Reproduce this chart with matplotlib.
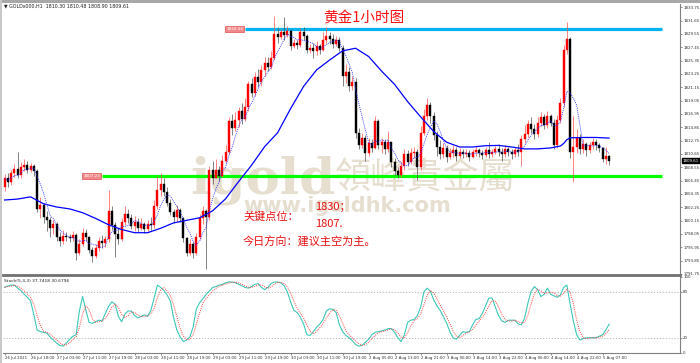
import matplotlib
matplotlib.use("Agg")
import matplotlib.pyplot as plt
from matplotlib.patches import Rectangle
import numpy as np
import pandas as pd

plt.rcParams['font.family'] = ['DejaVu Sans']
CJK = ['Noto Sans CJK SC', 'DejaVu Sans']
CJK_TC = ['Noto Sans CJK TC', 'DejaVu Sans']

# ---- data (GOLD H1) ----
first_open = 1805.5
closes = [
    1806.8, 1806.2, 1807.6, 1808.3, 1807.4, 1808.6, 1808.9, 1808.2, 1808.7, 1808.0,
    1802.0, 1802.6, 1800.8, 1800.2, 1799.0, 1799.6, 1797.6, 1796.9, 1797.8, 1797.6,
    1797.4, 1797.9, 1795.0, 1796.5, 1798.2, 1797.5, 1795.5, 1794.6, 1795.8, 1797.0,
    1796.6, 1797.2, 1801.6, 1799.5, 1798.0, 1797.2, 1800.0, 1801.2, 1800.6, 1799.3,
    1800.0, 1799.0, 1799.6, 1798.9, 1799.6, 1799.4, 1802.5, 1805.0, 1806.0, 1804.6,
    1803.0, 1801.5, 1800.8, 1801.8, 1800.5, 1797.4, 1795.0, 1796.5, 1795.0, 1797.6,
    1800.5, 1801.6, 1800.8, 1808.2, 1806.8, 1808.2, 1807.2, 1809.6, 1811.0, 1815.8,
    1814.8, 1816.0, 1817.4, 1816.2, 1818.0, 1821.6, 1820.2, 1822.8, 1822.0, 1823.8,
    1825.0, 1824.4, 1825.8, 1829.6, 1829.0, 1829.8, 1829.4, 1830.0, 1827.6, 1828.2,
    1827.8, 1829.8, 1829.2, 1827.0, 1827.4, 1826.8, 1827.6, 1827.0, 1828.6, 1829.2,
    1828.8, 1828.0, 1828.6, 1827.4, 1823.0, 1823.6, 1821.4, 1822.0, 1814.0, 1812.0,
    1813.2, 1810.8, 1812.4, 1811.6, 1815.8, 1812.0, 1812.6, 1811.4, 1812.6, 1809.4,
    1808.0, 1807.4, 1808.8, 1810.6, 1809.4, 1810.8, 1811.0, 1808.6, 1814.0, 1816.6,
    1818.4, 1816.6, 1813.6, 1811.8, 1810.6, 1811.6, 1810.2, 1810.8, 1811.2, 1810.4,
    1811.0, 1810.6, 1810.8, 1810.2, 1810.9, 1811.3, 1810.8, 1810.5, 1811.2, 1810.6,
    1810.9, 1811.4, 1811.0, 1810.6, 1811.4, 1811.0, 1810.6, 1811.2, 1811.0, 1813.0,
    1813.8, 1815.4, 1814.6, 1813.8, 1815.6, 1816.4, 1815.2, 1816.6, 1815.6, 1812.0,
    1816.0, 1818.6, 1827.0, 1828.8, 1811.0, 1811.8, 1813.2, 1811.4, 1812.2, 1811.2,
    1812.0, 1812.6, 1812.0, 1811.6, 1809.8, 1810.3, 1809.61,
]
highs = [
    1807.5, 1807.6, 1808.2, 1809.0, 1811.0, 1809.4, 1809.8, 1809.6, 1809.3, 1809.0,
    1808.3, 1803.8, 1803.0, 1801.6, 1800.8, 1800.3, 1799.9, 1798.3, 1798.6, 1798.4,
    1798.1, 1798.5, 1798.2, 1797.2, 1799.0, 1798.8, 1797.8, 1796.0, 1796.4, 1797.5,
    1797.9, 1797.8, 1805.0, 1802.5, 1800.0, 1799.0, 1800.6, 1802.5, 1802.0, 1801.2,
    1800.9, 1800.6, 1800.5, 1800.0, 1800.2, 1800.8, 1803.4, 1807.2, 1807.6, 1806.8,
    1805.4, 1803.5, 1802.0, 1802.6, 1802.2, 1800.8, 1797.6, 1797.2, 1796.8, 1798.2,
    1801.2, 1802.4, 1802.0, 1808.8, 1809.5, 1809.8, 1808.8, 1810.5, 1812.0, 1816.5,
    1816.9, 1817.2, 1818.0, 1818.6, 1819.4, 1822.2, 1822.6, 1823.6, 1824.0, 1824.6,
    1826.0, 1825.9, 1826.8, 1832.4, 1830.6, 1830.4, 1832.2, 1830.8, 1830.4, 1828.8,
    1828.6, 1830.5, 1830.6, 1829.6, 1828.0, 1828.2, 1828.4, 1828.0, 1829.8, 1830.6,
    1829.8, 1829.6, 1829.2, 1829.0, 1827.8, 1824.8, 1824.4, 1823.0, 1822.6, 1814.8,
    1814.0, 1813.6, 1813.2, 1813.0, 1816.6, 1816.2, 1813.2, 1813.0, 1814.2, 1812.6,
    1810.0, 1808.6, 1809.4, 1811.4, 1811.2, 1811.6, 1811.8, 1811.4, 1815.0, 1817.8,
    1819.4, 1818.8, 1817.2, 1814.2, 1812.8, 1812.4, 1812.0, 1811.6, 1812.0, 1811.8,
    1811.6, 1811.4, 1811.4, 1811.2, 1811.4, 1811.9, 1811.6, 1811.2, 1811.8, 1812.6,
    1811.5, 1811.9, 1812.2, 1811.6, 1812.0, 1811.8, 1811.4, 1811.8, 1812.2, 1813.6,
    1815.2, 1816.0, 1816.4, 1815.4, 1816.4, 1817.2, 1817.0, 1817.4, 1817.0, 1816.2,
    1816.8, 1819.4, 1827.8, 1831.4, 1829.0, 1816.6, 1814.6, 1813.8, 1813.0, 1812.6,
    1812.6, 1813.2, 1813.0, 1812.4, 1811.8, 1811.8, 1810.48,
]
lows = [
    1804.8, 1805.4, 1805.8, 1807.0, 1806.8, 1806.9, 1808.0, 1807.6, 1807.8, 1807.2,
    1801.5, 1800.5, 1799.8, 1798.5, 1797.6, 1798.0, 1797.0, 1796.2, 1796.5, 1796.9,
    1796.8, 1797.0, 1794.0, 1794.7, 1796.2, 1796.9, 1795.0, 1793.6, 1794.2, 1795.4,
    1795.8, 1796.0, 1796.8, 1798.6, 1794.4, 1796.5, 1796.9, 1799.5, 1799.8, 1798.8,
    1798.5, 1798.4, 1798.6, 1798.2, 1798.4, 1798.6, 1799.0, 1802.0, 1804.0, 1804.0,
    1802.5, 1801.0, 1799.8, 1800.0, 1800.0, 1796.8, 1794.6, 1794.8, 1794.3, 1794.8,
    1797.2, 1799.6, 1792.6, 1800.2, 1806.0, 1806.8, 1806.4, 1807.0, 1809.2, 1810.6,
    1813.6, 1814.2, 1814.9, 1815.4, 1815.8, 1817.4, 1819.6, 1819.8, 1821.2, 1821.4,
    1823.0, 1823.7, 1824.0, 1825.4, 1828.2, 1828.8, 1828.6, 1829.0, 1827.0, 1827.4,
    1827.2, 1827.5, 1828.6, 1826.6, 1826.5, 1825.8, 1826.2, 1826.4, 1826.8, 1828.2,
    1828.0, 1827.4, 1827.6, 1826.8, 1821.4, 1821.8, 1820.6, 1820.8, 1813.2, 1811.4,
    1811.6, 1809.6, 1810.4, 1811.0, 1811.4, 1811.4, 1810.8, 1810.6, 1811.0, 1808.6,
    1807.4, 1806.8, 1807.0, 1808.2, 1808.8, 1809.0, 1810.0, 1806.6, 1808.2, 1813.6,
    1816.0, 1815.6, 1812.8, 1810.4, 1809.8, 1810.0, 1809.4, 1809.8, 1810.2, 1809.6,
    1810.0, 1810.0, 1810.2, 1809.6, 1810.0, 1810.4, 1810.2, 1809.8, 1810.2, 1810.0,
    1810.2, 1810.6, 1810.4, 1809.6, 1810.2, 1810.4, 1809.8, 1810.2, 1810.4, 1808.8,
    1812.4, 1813.4, 1814.0, 1813.0, 1813.4, 1815.0, 1814.6, 1814.8, 1815.0, 1811.4,
    1811.6, 1815.6, 1818.0, 1826.4, 1810.0, 1806.2, 1810.8, 1810.6, 1810.8, 1810.4,
    1810.8, 1811.4, 1811.2, 1811.0, 1809.4, 1809.0, 1808.90,
]

# slow moving average (thick blue line), sampled at bar positions
ma_bars = [0, 4, 8, 12, 16, 20, 24, 28, 32, 36, 40, 44, 48, 52, 56, 60, 64, 68, 72, 76,
           80, 84, 88, 92, 96, 100, 104, 108, 112, 116, 120, 124, 128, 132, 136, 140,
           144, 148, 152, 156, 160, 164, 168, 171, 172, 173, 174, 178, 182, 186]
ma_vals = [1803.4, 1803.55, 1803.9, 1802.8, 1802.3, 1802.0, 1801.4, 1800.5, 1799.5, 1798.75,
           1798.25, 1798.25, 1798.95, 1799.8, 1800.2, 1800.6, 1801.7, 1803.6, 1806.3, 1808.9,
           1811.8, 1814.0, 1817.8, 1821.3, 1823.9, 1825.45, 1826.9, 1827.3, 1826.0, 1823.7,
           1821.6, 1818.9, 1816.5, 1814.2, 1812.5, 1811.75, 1811.75, 1811.95, 1812.0, 1811.75,
           1811.45, 1811.45, 1811.6, 1811.9, 1812.3, 1812.9, 1813.2, 1813.25, 1813.25, 1813.15]

# Stoch(5,3,3) main line, one value per bar
stoch_k = [
    86, 88, 89, 89, 85, 82, 77, 73, 68, 50, 30, 28, 27, 26, 21, 17, 13, 10, 9, 13,
    18, 22, 24, 55, 74, 56, 40, 39, 41, 43, 42, 52, 61, 67, 64, 48, 41, 51, 55, 55,
    49, 46, 48, 50, 48, 56, 72, 89, 86, 82, 76, 68, 46, 30, 21, 15, 17, 21, 34, 58,
    66, 71, 77, 81, 86, 87, 89, 90, 92, 93, 93, 92, 90, 88, 86, 85, 87, 90, 91, 86,
    83, 86, 91, 93, 93, 92, 88, 80, 67, 56, 53, 47, 38, 24, 23, 28, 34, 38, 44, 55,
    58, 57, 53, 37, 28, 23, 20, 16, 11, 9, 10, 14, 18, 24, 27, 28, 29, 30, 32, 32,
    27, 20, 15, 24, 40, 43, 44, 49, 60, 80, 85, 81, 70, 62, 56, 48, 39, 28, 20, 18,
    23, 28, 27, 28, 37, 44, 45, 52, 62, 72, 72, 60, 49, 42, 40, 43, 43, 43, 38, 37,
    46, 65, 81, 87, 83, 74, 77, 85, 77, 75, 73, 76, 86, 89, 64, 42, 24, 17, 19, 20,
    20, 20, 20, 22, 24, 30.3, 37.74,
]

resistance = 1830.33
support = 1807.23
price_ticks = [1833.75 - 2.1 * k for k in range(21)]

time_labels = ["26 Jul 2021", "26 Jul 18:00", "27 Jul 03:00", "27 Jul 11:00", "27 Jul 19:00",
               "28 Jul 03:00", "28 Jul 11:00", "28 Jul 19:00", "29 Jul 03:00", "29 Jul 11:00",
               "29 Jul 19:00", "30 Jul 03:00", "30 Jul 11:00", "30 Jul 19:00", "2 Aug 05:00",
               "2 Aug 13:00", "2 Aug 21:00", "3 Aug 06:00", "3 Aug 14:00", "3 Aug 22:00",
               "4 Aug 06:00", "4 Aug 14:00", "4 Aug 22:00", "5 Aug 07:00"]

# ---- derived series ----
df = pd.DataFrame({'close': closes, 'high': highs, 'low': lows, 'k': stoch_k})
df['open'] = df['close'].shift(1)
df.loc[0, 'open'] = first_open
n = len(df)
x = np.arange(n)

fast_ma = df['close'].rolling(5, min_periods=1).mean()
stoch_d = df['k'].rolling(3, min_periods=1).mean()

# ---- figure (700 x 363 px) ----
W, H = 700, 363
fig = plt.figure(figsize=(W / 100, H / 100), dpi=100)
fig.patch.set_facecolor('white')

def px_box(x0, y0, x1, y1):
    return [x0 / W, 1 - y1 / H, (x1 - x0) / W, (y1 - y0) / H]

ax = fig.add_axes(px_box(3, 4, 680, 275))
ax2 = fig.add_axes(px_box(3, 276, 680, 353))

# outer screenshot frame
fig.add_artist(Rectangle((0, 1 - 3 / H), 1, 3 / H, transform=fig.transFigure,
                         facecolor='#a8a8a8', edgecolor='none'))
fig.add_artist(Rectangle((0, 0), 2 / W, 1, transform=fig.transFigure,
                         facecolor='#c8c8c8', edgecolor='none'))

xmax = (680 - 3) / 3.25 - 0.5
for a in (ax, ax2):
    a.set_xlim(-0.5, xmax)
    a.set_facecolor('white')
    for s in a.spines.values():
        s.set_color('#808080')
        s.set_linewidth(0.8)
    a.spines['left'].set_visible(False)
    a.spines['top'].set_visible(False)

ax.spines['bottom'].set_linewidth(2.0)
ax.spines['bottom'].set_color('#707070')

# ---- main pane ----
ax.set_ylim(1791.59, 1834.27)

# watermark
wm = '#e6dece'
fig.text(190 / W, 1 - 193 / H, 'igold', fontsize=37, fontweight='bold',
         family='DejaVu Serif', color=wm, ha='left', va='baseline', zorder=0)
fig.text(335 / W, 1 - 189 / H, '領峰貴金屬', fontsize=26, family=CJK_TC,
         color=wm, ha='left', va='baseline', zorder=0)
fig.text(243 / W, 1 - 212 / H, 'www.igoldhk.com', fontsize=15, fontweight='bold',
         color=wm, ha='left', va='baseline', zorder=0)
ax.set_zorder(2)
ax.patch.set_alpha(0)

bull = df['close'] >= df['open']
body_w = 0.6
for i in range(n):
    o, c, h, l = df.loc[i, ['open', 'close', 'high', 'low']]
    col = '#ff0000' if bull[i] else '#000000'
    wick = '#ff5050' if bull[i] else '#505050'
    ax.vlines(i, l, h, color=wick, linewidth=0.5, zorder=3)
    bottom = min(o, c)
    height = max(abs(c - o), 0.08)
    ax.add_patch(Rectangle((i - body_w / 2, bottom), body_w, height,
                           facecolor=col, edgecolor=col, linewidth=0.3, zorder=4))

ax.plot(ma_bars, ma_vals, color='#0000ff', linewidth=0.9, zorder=5)
ax.plot(x, fast_ma, color='#3030ff', linewidth=0.6, linestyle=(0, (1.2, 1.2)), zorder=5)

# key levels
line_start_res = (245 - 4.6) / 3.25
line_start_sup = (102 - 4.6) / 3.25
line_end = (662 - 4.6) / 3.25
ax.hlines(resistance, line_start_res, line_end, color='#00b4f0', linewidth=2.3, zorder=2)
ax.hlines(support, line_start_sup, line_end, color='#00ff00', linewidth=2.3, zorder=2)
for lvl, xs in ((resistance, line_start_res), (support, line_start_sup)):
    ax.text(xs - 0.6, lvl, f'{lvl:.2f}', fontsize=3.0, color='white',
            ha='right', va='center', zorder=6,
            bbox=dict(boxstyle='square,pad=0.25', facecolor='#f08a8a',
                      edgecolor='#e05050', linewidth=0.5))

ax.yaxis.tick_right()
ax.set_yticks(price_ticks)
ax.set_yticklabels([f'{p:.2f}' for p in price_ticks])
ax.tick_params(axis='y', labelsize=2.9, length=1.5, width=0.5, color='#606060',
               labelcolor='#303030', pad=0.8)
ax.set_xticks([])

# current price tag
last = closes[-1]
ax.text(1.004, (last - 1791.59) / (1834.27 - 1791.59), f'{last:.2f}', transform=ax.transAxes,
        fontsize=2.9, color='white', ha='left', va='center', zorder=7,
        bbox=dict(boxstyle='square,pad=0.2', facecolor='black', edgecolor='black'))

# header
fig.text(4 / W, 1 - 6 / H, '▼ GOLDx000,H1  1810.30 1810.48 1808.90 1809.61',
         fontsize=3.4, color='#202020', ha='left', va='center')

# title and notes
fig.text(364 / W, 1 - 18 / H, '黄金1小时图', fontsize=10.5, color='#ff1010',
         family=CJK, ha='center', va='center', zorder=8)
red = '#e81010'
fig.text(243 / W, 1 - 217 / H, '关键点位：', fontsize=8, color=red, family=CJK,
         ha='left', va='center', zorder=8)
fig.text(315 / W, 1 - 207 / H, '1830；', fontsize=8, color=red, family=CJK,
         ha='left', va='center', zorder=8)
fig.text(315 / W, 1 - 224 / H, '1807.', fontsize=8, color=red, family=CJK,
         ha='left', va='center', zorder=8)
fig.text(243 / W, 1 - 242 / H, '今日方向：建议主空为主。', fontsize=8, color=red, family=CJK,
         ha='left', va='center', zorder=8)

# ---- stochastic pane ----
ax2.set_ylim(0.4, 100.9)
ax2.axhline(80, color='#b0b0b0', linewidth=0.6, linestyle=(0, (1.5, 2)))
ax2.axhline(20, color='#b0b0b0', linewidth=0.6, linestyle=(0, (1.5, 2)))
ax2.plot(x, df['k'], color='#3cc8b8', linewidth=0.8)
ax2.plot(x, stoch_d, color='#ff4040', linewidth=0.7, linestyle=(0, (1, 1.2)))
ax2.text(0.002, 0.96, 'Stoch(5,3,3) 37.7418 30.6796', transform=ax2.transAxes,
         fontsize=3.2, color='#202020', ha='left', va='top')

ax2.yaxis.tick_right()
ax2.set_yticks([0, 20, 80, 100])
ax2.set_yticklabels(['0', '20', '80', '100'])
ax2.tick_params(axis='y', labelsize=2.9, length=1.5, width=0.5, color='#606060',
                labelcolor='#303030', pad=0.8)

tick_pos = [8 * k for k in range(len(time_labels))]
ax2.set_xticks(tick_pos)
ax2.set_xticklabels(time_labels, ha='left')
ax2.tick_params(axis='x', labelsize=2.8, length=1.5, width=0.5, color='#606060',
                labelcolor='#303030', pad=0.8)

fig.savefig('out.png', dpi=100, facecolor='white')
